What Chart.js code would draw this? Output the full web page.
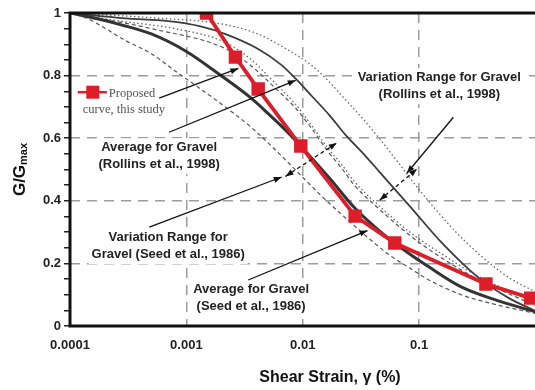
<!DOCTYPE html>
<html>
<head>
<meta charset="utf-8">
<script src="https://cdn.jsdelivr.net/npm/chart.js@4.4.1/dist/chart.umd.min.js"></script>
<style>
  html, body { margin: 0; padding: 0; background: #fff; overflow: hidden; }
  #wrap { width: 545px; height: 390px; }
</style>
</head>
<body>
<div id="wrap"><canvas id="gg"></canvas></div>
<script>
// shear strain (%) / G/Gmax pairs for each curve
const proposedStrain = [0.00149, 0.00264, 0.00414, 0.00962, 0.0282, 0.0618, 0.375, 0.91];
const proposedG      = [1.0, 0.859, 0.757, 0.575, 0.351, 0.265, 0.134, 0.089];

const seedAvgStrain = [0.0001, 0.00018, 0.00027, 0.0005, 0.001, 0.0019, 0.0036, 0.005, 0.0077, 0.01, 0.017, 0.028, 0.048, 0.083, 0.12, 0.23, 0.44, 1];
const seedAvgG      = [1.0, 0.98, 0.963, 0.933, 0.877, 0.805, 0.728, 0.68, 0.613, 0.568, 0.472, 0.377, 0.297, 0.23, 0.19, 0.125, 0.085, 0.045];

const rollinsAvgStrain = [0.0001, 0.0003, 0.0007, 0.0013, 0.0022, 0.004, 0.0065, 0.0087, 0.012, 0.017, 0.023, 0.034, 0.045, 0.083, 0.16, 0.31, 0.59, 1];
const rollinsAvgG      = [1.0, 0.983, 0.974, 0.958, 0.932, 0.888, 0.835, 0.79, 0.734, 0.673, 0.613, 0.546, 0.495, 0.383, 0.262, 0.16, 0.089, 0.048];

const rollinsHiStrain = [0.0001, 0.0005, 0.002, 0.004, 0.0065, 0.0117, 0.017, 0.023, 0.033, 0.044, 0.061, 0.104, 0.2, 0.35, 0.6, 1];
const rollinsHiG      = [1.0, 0.985, 0.965, 0.935, 0.895, 0.835, 0.779, 0.725, 0.661, 0.606, 0.539, 0.428, 0.306, 0.22, 0.153, 0.109];

const rollinsLoStrain = [0.0001, 0.00026, 0.0008, 0.0022, 0.0035, 0.006, 0.0085, 0.0117, 0.0163, 0.022, 0.028, 0.042, 0.083, 0.16, 0.31, 1];
const rollinsLoG      = [1.0, 0.975, 0.95, 0.905, 0.855, 0.77, 0.712, 0.645, 0.57, 0.512, 0.46, 0.395, 0.3, 0.228, 0.162, 0.075];

const seedHiStrain = [0.0001, 0.0005, 0.0022, 0.0035, 0.006, 0.0085, 0.0117, 0.0163, 0.022, 0.028, 0.042, 0.083, 0.16, 0.31, 1];
const seedHiG      = [1.0, 0.95, 0.885, 0.835, 0.755, 0.7, 0.635, 0.56, 0.5, 0.448, 0.385, 0.29, 0.215, 0.152, 0.065];

const seedLoStrain = [0.0001, 0.00014, 0.0003, 0.0005, 0.0008, 0.0019, 0.0036, 0.0065, 0.01, 0.015, 0.025, 0.037, 0.055, 0.083, 0.12, 0.23, 0.44, 1];
const seedLoG      = [1.0, 0.983, 0.912, 0.87, 0.815, 0.715, 0.635, 0.545, 0.475, 0.41, 0.335, 0.28, 0.228, 0.185, 0.148, 0.1, 0.07, 0.04];

const xTicks = [0.0001, 0.001, 0.01, 0.1];
const xTickLabels = ['0.0001', '0.001', '0.01', '0.1'];
const yTickLabels = {0: '0', 0.2: '0.2', 0.4: '0.4', 0.6: '0.6', 0.8: '0.8', 1: '1'};

// callouts, anchored in (strain, G/Gmax)
const notes = [
  {lines: ['Variation Range for Gravel', '(Rollins et al., 1998)'], at: [0.149, 0.795]},
  {lines: ['Average for Gravel', '(Rollins et al., 1998)'], at: [0.000583, 0.571]},
  {lines: ['Variation Range for', 'Gravel (Seed et al., 1986)'], at: [0.000697, 0.284]},
  {lines: ['Average for Gravel', '(Seed et al., 1986)'], at: [0.0036, 0.118]}
];
const arrows = [
  {from: [0.000583, 0.728], to: [0.0028, 0.823]},
  {from: [0.00071, 0.619], to: [0.0087, 0.785]},
  {from: [0.197, 0.667], to: [0.0784, 0.488]},
  {from: [0.00048, 0.316], to: [0.0066, 0.476]},
  {from: [0.0034, 0.147], to: [0.036, 0.305]},
  {from: [0.0458, 0.402], to: [0.096, 0.502], dashed: true, both: true},
  {from: [0.0071, 0.478], to: [0.0196, 0.585], dashed: true, both: true}
];
const legendAt = [0.000157, 0.747];

function pts(xs, ys) { return xs.map((x, i) => ({x: x, y: ys[i]})); }

function drawArrow(c, x1, y1, x2, y2, both) {
  c.beginPath(); c.moveTo(x1, y1); c.lineTo(x2, y2); c.stroke();
  const head = (tx, ty, ang) => {
    c.save(); c.setLineDash([]);
    c.beginPath();
    c.moveTo(tx, ty);
    c.lineTo(tx - 8 * Math.cos(ang) + 3 * Math.sin(ang), ty - 8 * Math.sin(ang) - 3 * Math.cos(ang));
    c.lineTo(tx - 8 * Math.cos(ang) - 3 * Math.sin(ang), ty - 8 * Math.sin(ang) + 3 * Math.cos(ang));
    c.closePath(); c.fill(); c.restore();
  };
  const ang = Math.atan2(y2 - y1, x2 - x1);
  head(x2, y2, ang);
  if (both) head(x1, y1, ang + Math.PI);
}

const decor = {
  id: 'decor',
  afterDatasetsDraw(chart) {
    const c = chart.ctx, a = chart.chartArea;
    const xs = chart.scales.x, ys = chart.scales.y;
    const px = p => [xs.getPixelForValue(p[0]), ys.getPixelForValue(p[1])];
    c.save();

    // text blocks with white backing
    c.font = 'bold 13px "Liberation Sans", Arial, sans-serif';
    c.textAlign = 'center';
    c.textBaseline = 'middle';
    notes.forEach(n => {
      const [x, y] = px(n.at);
      const w = Math.max(...n.lines.map(l => c.measureText(l).width));
      c.fillStyle = '#fff';
      c.fillRect(x - w / 2 - 3, y - 9, w + 6, 17.5 * n.lines.length + 1);
      c.fillStyle = '#222';
      n.lines.forEach((l, i) => c.fillText(l, x, y + i * 17.5));
    });

    // pointer arrows
    c.strokeStyle = '#111';
    c.fillStyle = '#111';
    c.lineWidth = 1.3;
    arrows.forEach(ar => {
      const [x1, y1] = px(ar.from), [x2, y2] = px(ar.to);
      c.setLineDash(ar.dashed ? [4, 3] : []);
      drawArrow(c, x1, y1, x2, y2, ar.both);
    });
    c.setLineDash([]);

    // legend entry for the proposed curve
    const [lx, ly] = px(legendAt);
    c.strokeStyle = '#dc1e2a';
    c.lineWidth = 2.5;
    c.beginPath(); c.moveTo(lx - 15, ly); c.lineTo(lx + 14, ly); c.stroke();
    c.fillStyle = '#dc1e2a';
    c.fillRect(lx - 6.5, ly - 6.5, 13, 13);
    c.fillStyle = '#555';
    c.font = '12.5px "Liberation Serif", "Times New Roman", serif';
    c.textAlign = 'left';
    c.fillText('Proposed', lx + 16, ly + 2);
    c.fillText('curve, this study', lx - 10, ly + 18);

    // frame: left, bottom and top lines
    c.strokeStyle = '#111';
    c.lineWidth = 3;
    c.beginPath();
    c.moveTo(a.right + 5, a.top); c.lineTo(a.left, a.top);
    c.lineTo(a.left, a.bottom); c.lineTo(a.right + 5, a.bottom);
    c.stroke();

    // axis titles
    c.fillStyle = '#111';
    c.font = 'bold 16px "Liberation Sans", Arial, sans-serif';
    c.textAlign = 'center';
    c.fillText('Shear Strain, \u03b3 (%)', 330, 378);

    c.save();
    c.translate(20, (a.top + a.bottom) / 2);
    c.rotate(-Math.PI / 2);
    c.textAlign = 'left';
    c.font = 'bold 17px "Liberation Sans", Arial, sans-serif';
    const w1 = c.measureText('G/G').width;
    c.font = 'bold 11px "Liberation Sans", Arial, sans-serif';
    const w2 = c.measureText('max').width;
    const x0 = -(w1 + w2) / 2;
    c.font = 'bold 17px "Liberation Sans", Arial, sans-serif';
    c.fillText('G/G', x0, 0);
    c.font = 'bold 11px "Liberation Sans", Arial, sans-serif';
    c.fillText('max', x0 + w1, 4);
    c.restore();

    c.restore();
  }
};

const curve = (data, color, width, dash) => ({
  data: data, showLine: true, borderColor: color, borderWidth: width,
  borderDash: dash, pointRadius: 0, fill: false, cubicInterpolationMode: 'monotone'
});

const gridDash = [10, 7];
const ctx = document.getElementById('gg').getContext('2d');

new Chart(ctx, {
  type: 'scatter',
  data: {
    datasets: [
      {
        data: pts(proposedStrain, proposedG), showLine: true,
        borderColor: '#dc1e2a', backgroundColor: '#dc1e2a', borderWidth: 3.8,
        pointStyle: 'rect', pointRadius: 9.5, pointBorderWidth: 0, tension: 0
      },
      curve(pts(seedAvgStrain, seedAvgG), '#333', 3, []),
      curve(pts(rollinsAvgStrain, rollinsAvgG), '#3d3d3d', 1.8, []),
      curve(pts(rollinsHiStrain, rollinsHiG), '#666', 1.3, [1.5, 2.5]),
      curve(pts(rollinsLoStrain, rollinsLoG), '#666', 1.3, [1.5, 2.5]),
      curve(pts(seedHiStrain, seedHiG), '#555', 1.2, [4, 3]),
      curve(pts(seedLoStrain, seedLoG), '#555', 1.2, [4, 3])
    ]
  },
  options: {
    responsive: true,
    maintainAspectRatio: false,
    animation: false,
    layout: { padding: { top: 13, right: 5, bottom: 0, left: 0 } },
    plugins: { legend: { display: false }, tooltip: { enabled: false } },
    scales: {
      x: {
        type: 'logarithmic',
        min: 0.0001,
        max: 1,
        afterBuildTicks: s => { s.ticks = xTicks.map(v => ({ value: v })); },
        afterFit: s => { s.height = 64; },
        border: { display: false, dash: gridDash },
        grid: {
          drawTicks: false,
          lineWidth: 1.5,
          color: c => (c.tick && c.tick.value > 0.0002 && c.tick.value < 0.5) ? '#9c9c9c' : 'rgba(0,0,0,0)'
        },
        ticks: {
          autoSkip: false,
          maxRotation: 0,
          padding: 12,
          color: '#222',
          font: { family: '"Liberation Sans", Arial, sans-serif', size: 13, weight: 'bold' },
          callback: (v, i) => xTickLabels[i]
        }
      },
      y: {
        min: 0,
        max: 1,
        afterFit: s => { s.width = 70; },
        border: { display: false, dash: gridDash },
        grid: {
          lineWidth: 1.5,
          tickLength: 6,
          tickWidth: 1.5,
          tickColor: '#222',
          tickBorderDash: [],
          color: c => {
            const v = c.tick ? Math.round(c.tick.value * 100) / 100 : -1;
            return (v > 0 && v < 1 && yTickLabels[v] !== undefined) ? '#9c9c9c' : 'rgba(0,0,0,0)';
          }
        },
        ticks: {
          stepSize: 0.05,
          autoSkip: false,
          padding: 3,
          color: '#222',
          font: { family: '"Liberation Sans", Arial, sans-serif', size: 13, weight: 'bold' },
          callback: v => {
            const k = Math.round(v * 100) / 100;
            return yTickLabels[k] !== undefined ? yTickLabels[k] : '';
          }
        }
      }
    }
  },
  plugins: [decor]
});
</script>
</body>
</html>
